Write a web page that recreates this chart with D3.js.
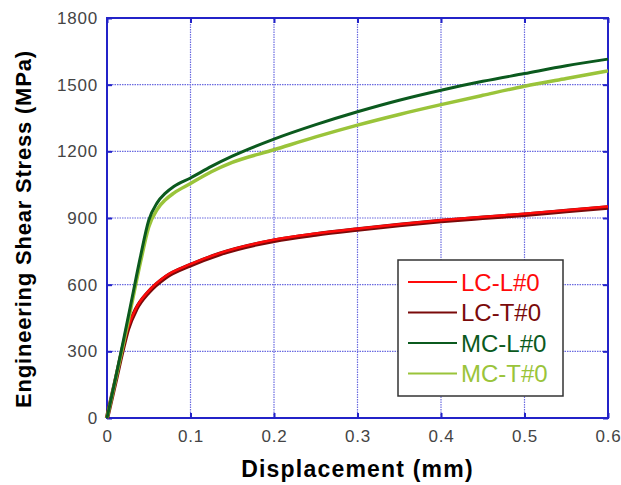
<!DOCTYPE html>
<html lang="en">
<head>
  <meta charset="UTF-8">
  <title>Engineering Shear Stress vs Displacement</title>
  <script src="https://d3js.org/d3.v7.min.js"></script>
  <style>
    body { margin: 0; background: #fff; }
    svg { display: block; font-family: "Liberation Sans", Arial, sans-serif; }
  </style>
</head>
<body>
  <div id="chart"></div>
  <script>
    // displacement (mm) sample points, per curve
    const dispMC = [0, 0.01, 0.02, 0.03, 0.04, 0.05, 0.06, 0.07, 0.08, 0.1, 0.125, 0.15, 0.2, 0.25, 0.3, 0.35, 0.4, 0.45, 0.5, 0.55, 0.6];
    const dispLC = [0, 0.01, 0.018, 0.025, 0.035, 0.05, 0.07, 0.1, 0.135, 0.2, 0.25, 0.3, 0.35, 0.4, 0.45, 0.5, 0.55, 0.6];

    // engineering shear stress (MPa)
    const stressLCL = [0, 165, 300, 405, 495, 572, 638, 692, 742, 802, 830, 852, 872, 890, 905, 919, 935, 952];
    const stressLCT = [0, 163, 296, 400, 490, 567, 633, 688, 738, 798, 826, 848, 868, 886, 901, 915, 931, 947];
    const stressMCL = [0, 175, 355, 540, 725, 890, 968, 1012, 1042, 1080, 1132, 1178, 1255, 1320, 1378, 1430, 1475, 1515, 1550, 1585, 1615];
    const stressMCT = [0, 168, 340, 520, 700, 860, 938, 982, 1012, 1055, 1108, 1150, 1207, 1265, 1318, 1366, 1410, 1452, 1493, 1528, 1562];

    const seriesNames = ["LC-L#0", "LC-T#0", "MC-L#0", "MC-T#0"];
    const seriesColors = ["#ff0a0a", "#7a0a0a", "#0b5a1e", "#9ac43a"];

    const xTicks = [0, 0.1, 0.2, 0.3, 0.4, 0.5, 0.6];
    const yTicks = [0, 300, 600, 900, 1200, 1500, 1800];

    const width = 621, height = 485;
    const margin = { top: 18, right: 13, bottom: 67, left: 107 };

    const svg = d3.select("#chart").append("svg")
        .attr("width", width)
        .attr("height", height);

    const x = d3.scaleLinear().domain([0, 0.6]).range([margin.left, width - margin.right]);
    const y = d3.scaleLinear().domain([0, 1800]).range([height - margin.bottom, margin.top]);

    const frameColor = "#2323c8";
    const gridColor = "#6a6ae0";

    // grid
    svg.append("g").selectAll("line")
        .data(xTicks.slice(1, -1))
        .join("line")
        .attr("x1", d => x(d)).attr("x2", d => x(d))
        .attr("y1", y(0)).attr("y2", y(1800))
        .attr("stroke", gridColor).attr("stroke-width", 1.2)
        .attr("stroke-dasharray", "1.5,1");
    svg.append("g").selectAll("line")
        .data(yTicks.slice(1, -1))
        .join("line")
        .attr("y1", d => y(d)).attr("y2", d => y(d))
        .attr("x1", x(0)).attr("x2", x(0.6))
        .attr("stroke", gridColor).attr("stroke-width", 1.2)
        .attr("stroke-dasharray", "1.5,1");

    // axes with inward ticks
    const tickLen = 5;
    const xAxis = svg.append("g")
        .attr("transform", `translate(0,${y(0)})`)
        .call(d3.axisBottom(x).tickValues(xTicks).tickSize(-tickLen).tickPadding(12)
            .tickFormat(d => d === 0 ? "0" : d3.format(".1f")(d)));
    const yAxis = svg.append("g")
        .attr("transform", `translate(${x(0)},0)`)
        .call(d3.axisLeft(y).tickValues(yTicks).tickSize(-tickLen).tickPadding(9)
            .tickFormat(d3.format("d")));
    const xTop = svg.append("g")
        .attr("transform", `translate(0,${y(1800)})`)
        .call(d3.axisTop(x).tickValues(xTicks).tickSize(-tickLen).tickFormat(""));
    const yRight = svg.append("g")
        .attr("transform", `translate(${x(0.6)},0)`)
        .call(d3.axisRight(y).tickValues(yTicks).tickSize(-tickLen).tickFormat(""));

    [xAxis, yAxis, xTop, yRight].forEach(g => {
      g.select(".domain").remove();
      g.selectAll(".tick line").attr("stroke", frameColor).attr("stroke-width", 2);
      g.selectAll(".tick text")
          .attr("fill", "#444")
          .attr("font-size", 17)
          .attr("letter-spacing", 0.8)
          .attr("font-family", "'Liberation Sans', Arial, sans-serif");
    });

    // frame
    svg.append("rect")
        .attr("x", x(0)).attr("y", y(1800))
        .attr("width", x(0.6) - x(0)).attr("height", y(0) - y(1800))
        .attr("fill", "none").attr("stroke", frameColor).attr("stroke-width", 2);

    // curves
    const data = [
      dispLC.map((d, i) => [d, stressLCT[i]]),
      dispLC.map((d, i) => [d, stressLCL[i]]),
      dispMC.map((d, i) => [d, stressMCT[i]]),
      dispMC.map((d, i) => [d, stressMCL[i]])
    ];
    const order = [1, 0, 3, 2];
    const widths = [4.5, 2.5, 3.5, 3];

    const line = d3.line()
        .x(d => x(d[0]))
        .y(d => y(d[1]))
        .curve(d3.curveMonotoneX);

    svg.append("g").selectAll("path")
        .data(data)
        .join("path")
        .attr("d", line)
        .attr("fill", "none")
        .attr("stroke", (d, i) => seriesColors[order[i]])
        .attr("stroke-width", (d, i) => widths[i])
        .attr("stroke-linejoin", "round");

    // axis titles
    svg.append("text")
        .attr("x", (x(0) + x(0.6)) / 2)
        .attr("y", 477)
        .attr("text-anchor", "middle")
        .attr("font-size", 23)
        .attr("letter-spacing", 1.2)
        .attr("font-weight", "bold")
        .text("Displacement (mm)");

    svg.append("text")
        .attr("transform", "translate(31,229) rotate(-90)")
        .attr("text-anchor", "middle")
        .attr("font-size", 22)
        .attr("letter-spacing", 0.8)
        .attr("font-weight", "bold")
        .text("Engineering Shear Stress (MPa)");

    // legend
    const legend = svg.append("g").attr("transform", "translate(398,260)");
    legend.append("rect")
        .attr("width", 165).attr("height", 136)
        .attr("fill", "#fff").attr("stroke", "#333").attr("stroke-width", 1.5);

    const rows = legend.selectAll("g.row")
        .data(seriesNames)
        .join("g")
        .attr("class", "row")
        .attr("transform", (d, i) => `translate(0,${22 + i * 30.5})`);
    rows.append("line")
        .attr("x1", 10).attr("x2", 59)
        .attr("stroke", (d, i) => seriesColors[i])
        .attr("stroke-width", 2);
    rows.append("text")
        .attr("x", 63).attr("y", 8.5)
        .attr("font-size", 24)
        .attr("fill", (d, i) => seriesColors[i])
        .text(d => d);
  </script>
</body>
</html>
